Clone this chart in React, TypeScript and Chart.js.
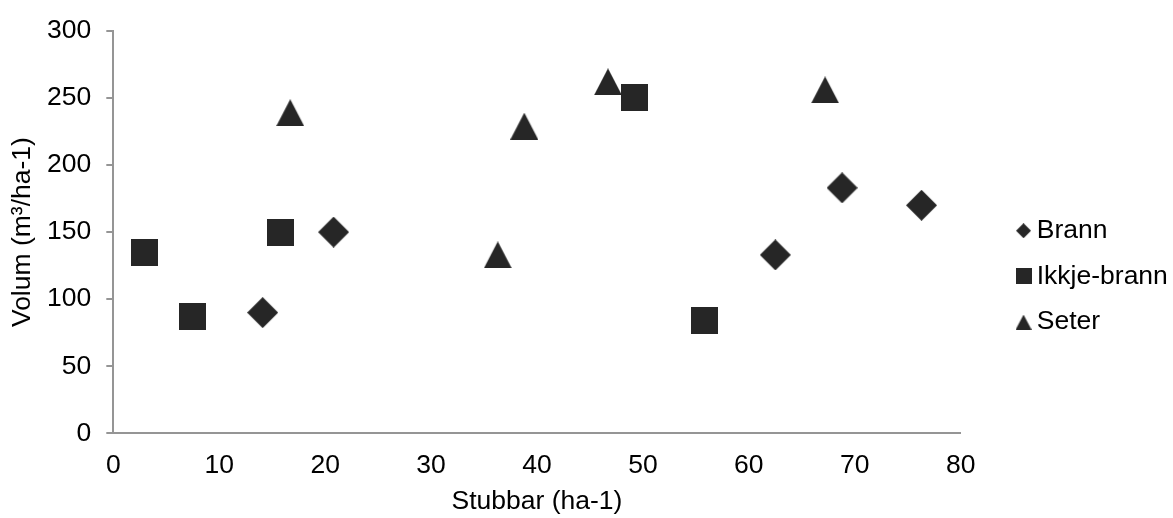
import React, { useEffect, useRef } from "react";
import { Chart, registerables } from "chart.js";

Chart.register(...registerables);

// ---- data ----
const seriesNames = ["Brann", "Ikkje-brann", "Seter"];
const brannX = [14.1, 20.8, 62.5, 68.8, 76.3];
const brannY = [90, 150, 133, 183, 170];
const ikkjeX = [2.9, 7.5, 15.8, 49.2, 55.8];
const ikkjeY = [135, 87, 150, 250, 84];
const seterX = [16.7, 36.3, 38.8, 46.7, 67.2];
const seterY = [239, 133, 229, 262, 256];
const xTicks = [0, 10, 20, 30, 40, 50, 60, 70, 80];
const yTicks = [0, 50, 100, 150, 200, 250, 300];
const xTitle = "Stubbar (ha-1)";
const yTitle = "Volum (m³/ha-1)";

const FONT = "'Liberation Sans', Arial, sans-serif";
const FS = 26.5;
const MARK = "#262626";
const AXIS = "#959595";

function makeMarker(shape: string, w: number, h: number) {
  const c = document.createElement("canvas");
  c.width = w;
  c.height = h;
  const ctx = c.getContext("2d")!;
  ctx.fillStyle = MARK;
  ctx.beginPath();
  if (shape === "diamond") {
    ctx.moveTo(w / 2, 0);
    ctx.lineTo(w, h / 2);
    ctx.lineTo(w / 2, h);
    ctx.lineTo(0, h / 2);
  } else if (shape === "square") {
    ctx.rect(0, 0, w, h);
  } else {
    ctx.moveTo(w / 2, 0);
    ctx.lineTo(w, h);
    ctx.lineTo(0, h);
  }
  ctx.closePath();
  ctx.fill();
  return c;
}

function pts(xs: number[], ys: number[]) {
  return xs.map((x, i) => ({ x, y: ys[i] }));
}

export default function App() {
  const ref = useRef<HTMLCanvasElement>(null);
  useEffect(() => {
    const dataMarkers = [
      makeMarker("diamond", 31, 31),
      makeMarker("square", 27, 27),
      makeMarker("triangle", 28, 27),
    ];
    const legendMarkers = [
      makeMarker("diamond", 15, 15),
      makeMarker("square", 16, 16),
      makeMarker("triangle", 16, 15),
    ];
    const legendShift = {
      id: "legendShift",
      afterLayout(chart: any) {
        const lg = chart.legend;
        if (!lg) return;
        lg.left = 1004.3;
        lg.right = 1173;
        lg.width = lg.right - lg.left;
        lg.top = 198.3;
        lg.bottom = 518;
      },
    };
    const xs = [brannX, ikkjeX, seterX];
    const ys = [brannY, ikkjeY, seterY];
    const chart = new Chart(ref.current!, {
      type: "scatter",
      data: {
        datasets: seriesNames.map((name, i) => ({
          label: name,
          data: pts(xs[i], ys[i]),
          pointStyle: dataMarkers[i] as any,
          pointRadius: 10,
          backgroundColor: MARK,
          borderColor: MARK,
          showLine: false,
        })),
      },
      options: {
        animation: false,
        responsive: false,
        devicePixelRatio: 1,
        layout: { padding: { top: 27.3, right: 43.6, bottom: 0, left: 0 } },
        plugins: {
          tooltip: { enabled: false },
          legend: {
            position: "right",
            align: "start",
            maxWidth: 168.7,
            labels: {
              usePointStyle: true,
              pointStyleWidth: 0.01,
              padding: 19.2,
              color: "#000",
              font: { family: FONT, size: FS },
              generateLabels: (ch: any) => {
                const base = Chart.defaults.plugins.legend.labels.generateLabels(ch);
                return base.map((it: any, i: number) => ({
                  ...it,
                  pointStyle: legendMarkers[i],
                }));
              },
            },
          },
        },
        scales: {
          x: {
            type: "linear",
            min: 0,
            max: 80,
            afterBuildTicks: (s: any) => {
              s.ticks = xTicks.map((v) => ({ value: v }));
            },
            afterFit: (s: any) => {
              s.height = 84.7;
            },
            ticks: { color: "#000", padding: 16, font: { family: FONT, size: FS }, maxRotation: 0 },
            grid: { display: false, drawTicks: false, tickLength: 0 },
            border: { display: true, color: AXIS, width: 2 },
            title: {
              display: true,
              text: xTitle,
              color: "#000",
              font: { family: FONT, size: FS },
              padding: { top: 0, bottom: 0 },
            },
          },
          y: {
            type: "linear",
            min: 0,
            max: 300,
            afterBuildTicks: (s: any) => {
              s.ticks = yTicks.map((v) => ({ value: v }));
            },
            afterFit: (s: any) => {
              s.width = 113.3;
            },
            ticks: { color: "#000", padding: 15, font: { family: FONT, size: FS } },
            grid: {
              display: true,
              drawOnChartArea: false,
              drawTicks: true,
              tickLength: 7,
              color: AXIS,
              lineWidth: 2,
            },
            border: { display: true, color: AXIS, width: 2 },
            title: {
              display: true,
              text: yTitle,
              color: "#000",
              font: { family: FONT, size: FS },
              padding: { top: 7, bottom: 0 },
            },
          },
        },
      },
      plugins: [legendShift],
    } as any);
    return () => chart.destroy();
  }, []);
  return (
    <div style={{ position: "fixed", left: 0, top: 0, width: 1173, height: 518, background: "#fff" }}>
      <canvas ref={ref} width={1173} height={518} style={{ display: "block" }} />
    </div>
  );
}
